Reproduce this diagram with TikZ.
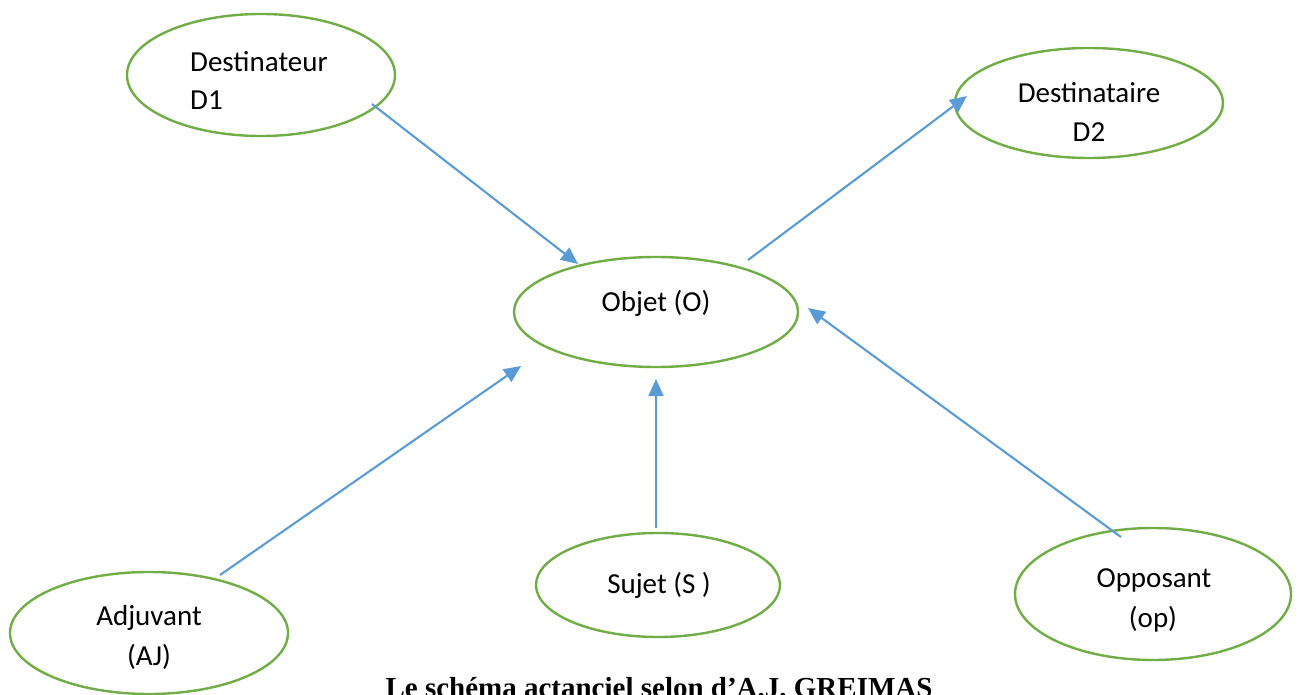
\documentclass[tikz,border=0pt]{standalone}
\usepackage{fontspec}
\setmainfont{Carlito}
\newfontfamily\titlefont{Liberation Serif}
\usetikzlibrary{shapes.geometric,arrows.meta}
\definecolor{egreen}{HTML}{70AD47}
\definecolor{ablue}{HTML}{5B9BD5}
\begin{document}
\begin{tikzpicture}[x=1pt,y=-1pt,
  actant/.style={draw=egreen,line width=2.4pt,ellipse,inner sep=0pt},
  lbl/.style={font=\fontsize{29}{39}\selectfont,inner sep=0pt},
  link/.style={draw=ablue,line width=2.1pt,-{Triangle[length=17pt,width=15pt]}}]
\useasboundingbox (0,0) rectangle (1299,695);
% ellipses
\node[actant,minimum width=268pt,minimum height=122pt] (dest) at (261,75) {};
\node[actant,minimum width=268pt,minimum height=110pt] (dire) at (1089,103) {};
\node[actant,minimum width=284pt,minimum height=110pt] (obj) at (656,312) {};
\node[actant,minimum width=278pt,minimum height=122pt] (adj) at (149,633) {};
\node[actant,minimum width=244pt,minimum height=104pt] (suj) at (658,585) {};
\node[actant,minimum width=276pt,minimum height=132pt] (opp) at (1153,594) {};
% labels
\node[lbl,anchor=base west] (destA) at (190,72) {Destinateur};
\node[lbl,anchor=base west] (destB) at (190,110) {D1};
\node[lbl,anchor=base] (direA) at (1089,103) {Destinataire};
\node[lbl,anchor=base] (direB) at (1089,142) {D2};
\node[lbl,anchor=base] (objA) at (656,312) {Objet (O)};
\node[lbl,anchor=base] (adjA) at (149,625) {Adjuvant};
\node[lbl,anchor=base] (adjB) at (149,665) {(AJ)};
\node[lbl,anchor=base] (sujA) at (659,593) {Sujet (S )};
\node[lbl,anchor=base] (oppA) at (1154,587) {Opposant};
\node[lbl,anchor=base] (oppB) at (1153,627) {(op)};
% connector ends
\coordinate (destOut) at (372,104);
\coordinate (objInD) at (578,264);
\coordinate (objOut) at (748,260);
\coordinate (direIn) at (967,96);
\coordinate (oppOut) at (1121,537);
\coordinate (objInO) at (808,308);
\coordinate (sujOut) at (656,528);
\coordinate (objInS) at (656,379);
\coordinate (adjOut) at (220,575);
\coordinate (objInA) at (521,366);
\draw[link] (destOut) -- (objInD);
\draw[link] (objOut) -- (direIn);
\draw[link] (oppOut) -- (objInO);
\draw[link] (sujOut) -- (objInS);
\draw[link] (adjOut) -- (objInA);
% title
\node[font=\titlefont\bfseries\fontsize{29}{35}\selectfont,anchor=base,inner sep=0pt] (title) at (659,697) {Le schéma actanciel selon d’A.J. GREIMAS};
\end{tikzpicture}
\end{document}
